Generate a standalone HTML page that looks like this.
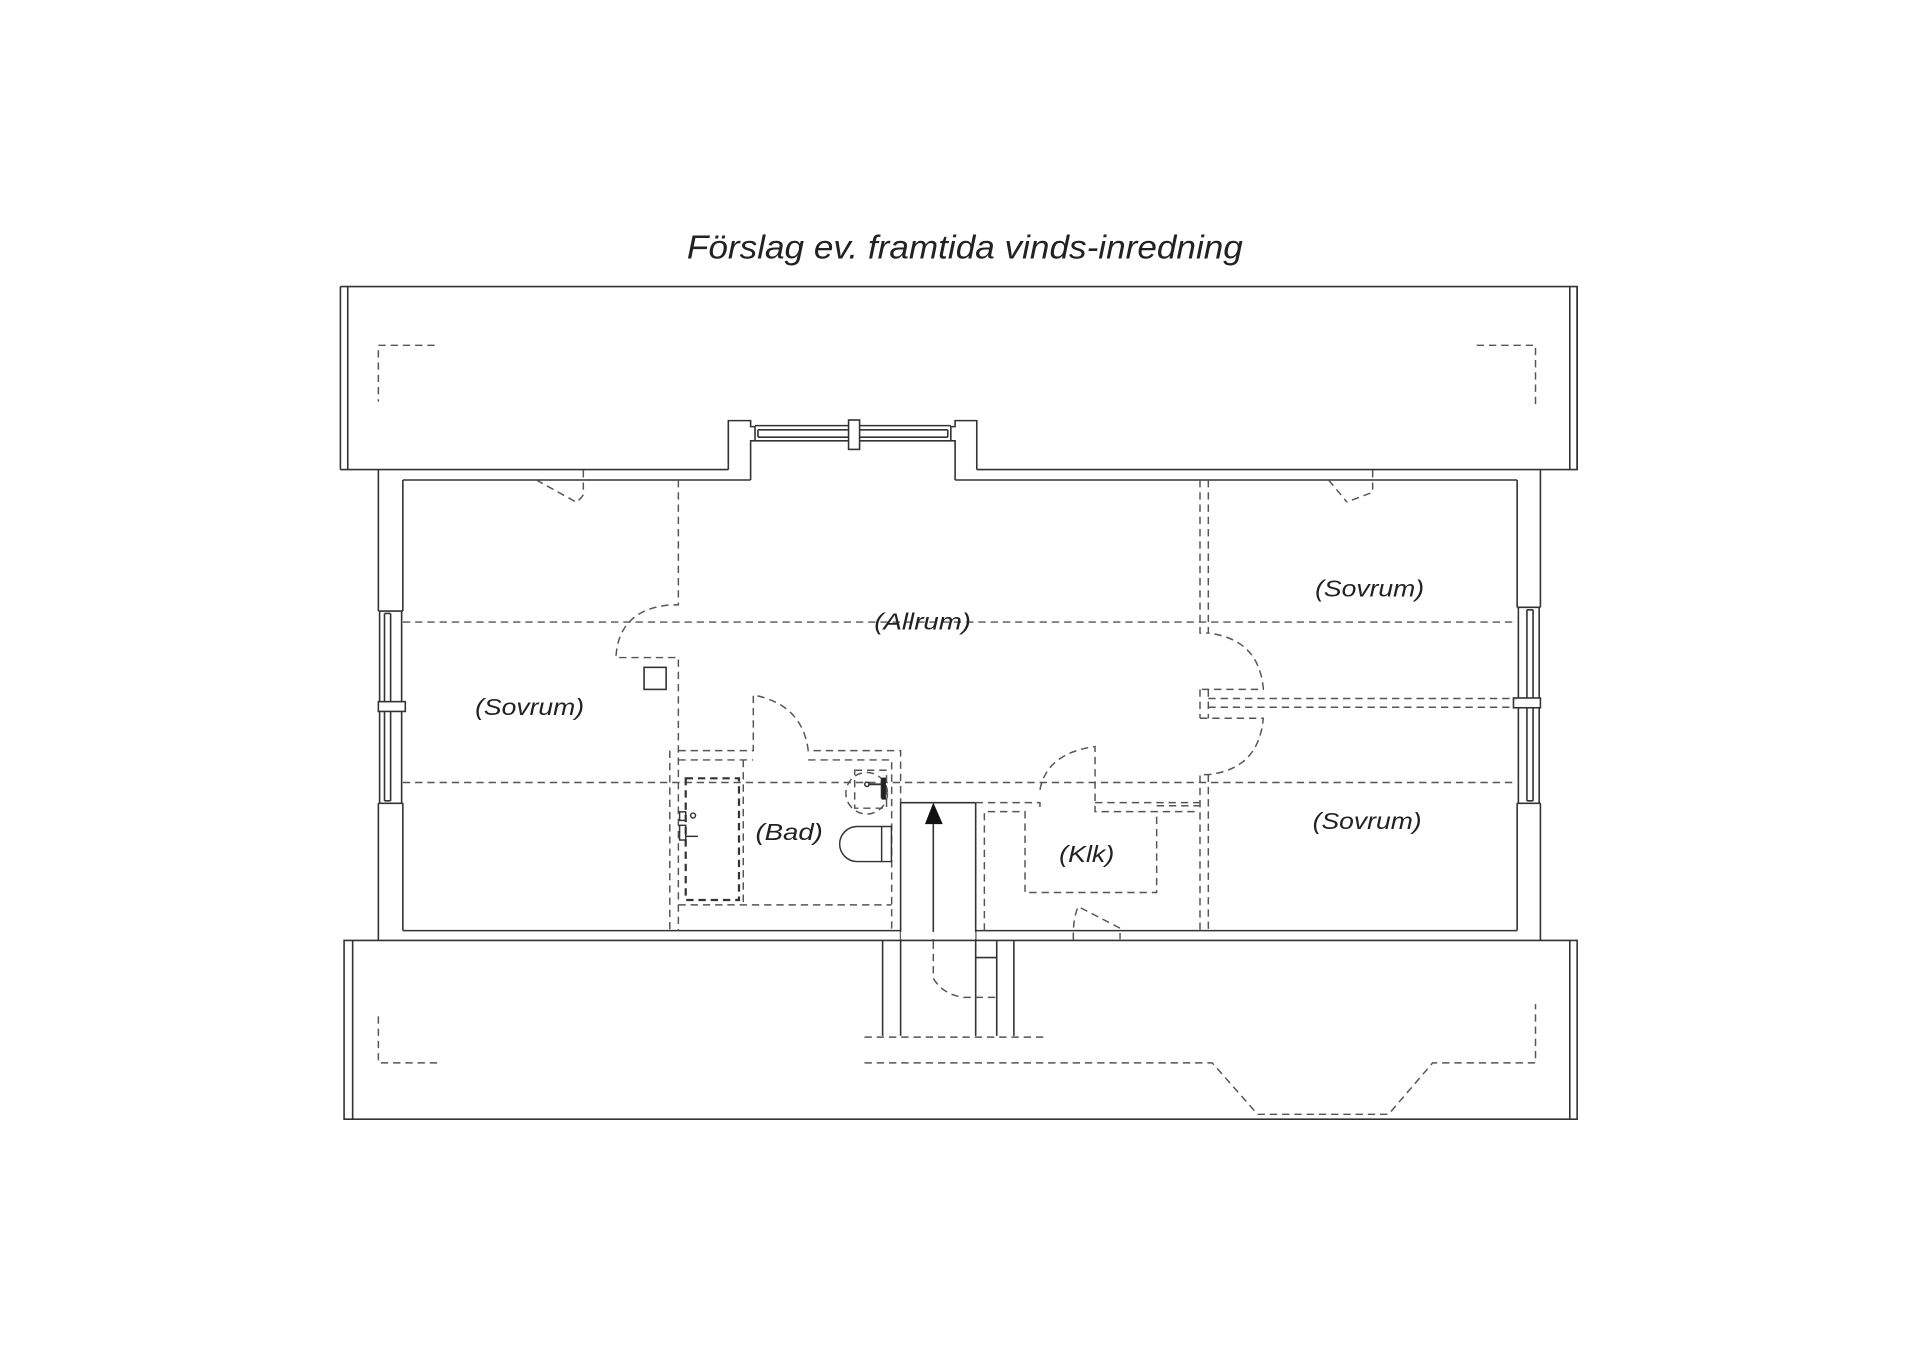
<!DOCTYPE html>
<html><head><meta charset="utf-8"><style>
html,body{margin:0;padding:0;background:#fff;}
svg{display:block;}
text{font-family:"Liberation Sans",sans-serif;font-style:italic;fill:#222;}
</style></head><body>
<svg width="1920" height="1357" viewBox="0 0 1568 1108.2" preserveAspectRatio="none" xmlns="http://www.w3.org/2000/svg">
<rect width="1568" height="1108.2" fill="#fff"/>
<text x="561" y="211" font-size="27" textLength="454" lengthAdjust="spacingAndGlyphs">Förslag ev. framtida vinds-inredning</text>

<g fill="none" stroke="#333" stroke-width="1.3">
<path d="M278,234 H1288 V383.5 H797.7 M594.8,383.5 H278 Z"/>
<path d="M278,234 V383.5 M284,234 V383.5 M1282,234 V383.5 M1288,234 V383.5"/>
<path d="M594.8,383.5 V343.5 H613 V348.4 H616.6 V360 H613 V392"/>
<path d="M797.7,383.5 V343.5 H780 V348.4 H776.5 V360 H780 V392"/>
<path d="M616.6,347.6 H776.5 M616.6,360 H776.5 M619,351 H774 M619,357 H774 M619,351 V357 M774,351 V357"/>
<rect x="693" y="343" width="9" height="24" fill="#fff"/>
<path d="M309,383.5 V499 M309,656 V768 M1258,383.5 V496 M1258,656 V768"/>
<path d="M329,392 H613 M780,392 H1239 M329,392 V499 M329,656 V760 M1239,392 V496 M1239,656 V760"/>
<path d="M329,760 H735.5 M796.8,760 H1239"/>
<path d="M309,499 H329 M309,656 H329 M310,499 V656 M328,499 V656 M314,501 V654 M319,501 V654 M314,501 H319 M314,654 H319"/>
<rect x="309" y="573" width="22" height="8" fill="#fff"/>
<path d="M1239,496 H1258 M1239,656 H1258 M1240,496 V656 M1257,496 V656 M1247,498 V654 M1252,498 V654 M1247,498 H1252 M1247,654 H1252"/>
<rect x="1236" y="570" width="22" height="8" fill="#fff"/>
<path d="M281,768 H1288 V914 H281 Z M288,768 V914 M1282,768 V914"/>
<path d="M735.5,655.5 H796.8 M735.5,655.5 V846 M796.8,655.5 V846"/>
<path d="M720.8,768 V846 M814,768 V846 M828,768 V846 M796.8,782 H814"/>
<path d="M762.2,673 V769"/>
<rect x="526" y="545" width="18" height="18"/>
</g>
<path d="M762.2,655.5 L755.4,673 H769.9 Z" fill="#111"/>
<rect x="735.6" y="761" width="61" height="6" fill="#fff"/>

<g fill="none" stroke="#555" stroke-width="1.2" stroke-dasharray="6 4">
<path d="M355,282 H309 V328 M1206,282 H1254 V330"/>
<path d="M309,830 V868 H357"/>
<path d="M706,868 H990 L1027,910 H1134 L1170,868 H1254 V820"/>
<path d="M706,847 H852"/>
<path d="M329,508 H1239 M329,639 H1239"/>
<path d="M438,392 L470.5,410 M476.4,384 V404 Q474,408 470.5,410"/>
<path d="M1085,392 L1100,410 M1121,384 V402 L1100,410"/>
<path d="M554,392 V494 H547 Q505,498 503,537 H554 V760 M547,613 V760"/>
<path d="M554,613 H615.2 V567.6 Q655,575 660,612.5 V613 H735.5 V655.5"/>
<path d="M554,620.6 H615 M660,620.6 H728.2 V760"/>
<path d="M607,620.6 V739 M554,739 H728.2"/>
<path d="M560,635.6 H603.5 V735 H560 Z" stroke="#333" stroke-width="1.8"/>
<circle cx="707.8" cy="647.8" r="17"/>
<path d="M698,629 H724 V660 H698 Z"/>
<path d="M796.8,655.5 H849.3 V662.8 M849.3,645 Q855,615 894.3,609.7 V662.8 H978 M894.3,655.5 H980"/>
<path d="M803.9,760 V662.8 H837.1 V728.9 H944.6 V662.8"/>
<path d="M876.6,767.6 Q876,750 880.6,740.4 L914.7,758 V767"/>
<path d="M762.2,769 V799 Q770,812 786.7,814.5 H814"/>
<path d="M980,392 V517 H986.8 M986.8,392 V517 Q1028,522 1031.7,562.2 V563 H980 M986.8,570.4 H1239 M986.8,577.6 H1233 M980,563 V586.6 M986.8,563 V586.6 M980,586.6 H1031.7 Q1028,628 986.8,632.6 H980 V760 M986.8,632.6 V760"/>
<path d="M944.6,658 H980"/>
</g>
<g fill="none" stroke="#333" stroke-width="1.2">
<path d="M700,675 H728 V703.6 H700 A14.3,14.3 0 0 1 700,675 Z M720,675 V703.6"/>
<path d="M709,640.5 H722 M720,636 V652" stroke-width="1.5"/>
<circle cx="708" cy="640.5" r="1.8"/>
<rect x="555" y="663" width="5" height="7"/>
<circle cx="566" cy="666" r="2"/>
<rect x="555" y="674" width="5" height="12"/>
<path d="M560,683 H570"/>
</g>
<rect x="720" y="635" width="3.5" height="18" fill="#222"/>

<text x="388" y="584" font-size="19" textLength="89" lengthAdjust="spacingAndGlyphs">(Sovrum)</text>
<text x="714" y="514" font-size="19" textLength="79" lengthAdjust="spacingAndGlyphs">(Allrum)</text>
<text x="1074" y="487" font-size="19" textLength="89" lengthAdjust="spacingAndGlyphs">(Sovrum)</text>
<text x="1072" y="677" font-size="19" textLength="89" lengthAdjust="spacingAndGlyphs">(Sovrum)</text>
<text x="617" y="686" font-size="19" textLength="55" lengthAdjust="spacingAndGlyphs">(Bad)</text>
<text x="865" y="704" font-size="19" textLength="45" lengthAdjust="spacingAndGlyphs">(Klk)</text>
</svg>
</body></html>
